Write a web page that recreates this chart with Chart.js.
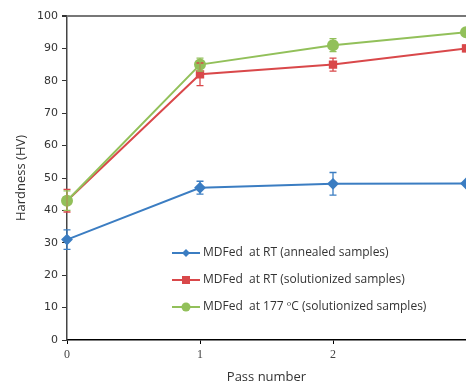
<!DOCTYPE html>
<html><head><meta charset="utf-8">
<script src="https://cdn.jsdelivr.net/npm/chart.js@4"></script>
<style>html,body{margin:0;padding:0;background:#fff;}#wrap{width:466px;height:385px;position:relative;}</style>
</head><body><div id="wrap"><canvas id="c" width="466" height="385"></canvas></div>
<script>
const passes = [0, 1, 2, 3];
const xTickLabels = ['0', '1', '2', ''];
const annealedRT = [31, 47, 48.2, 48.3];
const annealedRTErr = [3, 2, 3.5, 0];
const solutionizedRT = [43, 82, 85, 90];
const solutionizedRTErr = [3.5, 3.5, 2, 1];
const solutionized177 = [43, 85, 91, 95];
const solutionized177Err = [3, 2, 2, 1];
const seriesNames = ['MDFed  at RT (annealed samples)', 'MDFed  at RT (solutionized samples)', 'MDFed  at 177 ºC (solutionized samples)'];
const colors = ['#3b7dc2', '#d9484a', '#92c05a'];

function pts(arr){ return passes.map((p,i)=>({x:p,y:arr[i]})); }

const errorBars = {
  id:'errorBars',
  afterDatasetsDraw(chart){
    const ctx = chart.ctx, xs = chart.scales.x, ys = chart.scales.y;
    chart.data.datasets.forEach((ds)=>{
      ctx.save();
      ctx.strokeStyle = ds.borderColor; ctx.lineWidth = 1.3;
      ds.data.forEach((p,i)=>{
        const e = ds.err[i]; if(!e) return;
        const x = xs.getPixelForValue(p.x);
        const y1 = ys.getPixelForValue(p.y - e), y2 = ys.getPixelForValue(p.y + e);
        ctx.beginPath();
        ctx.moveTo(x,y1); ctx.lineTo(x,y2);
        ctx.moveTo(x-3.5,y1); ctx.lineTo(x+3.5,y1);
        ctx.moveTo(x-3.5,y2); ctx.lineTo(x+3.5,y2);
        ctx.stroke();
      });
      ctx.restore();
    });
  }
};

const legendBox = {
  id:'legendBox',
  afterDraw(chart){
    const ctx = chart.ctx;
    const rows = [253, 280, 307];
    chart.data.datasets.forEach((ds,i)=>{
      const y = rows[i];
      ctx.save();
      ctx.strokeStyle = ds.borderColor; ctx.lineWidth = 2;
      ctx.beginPath(); ctx.moveTo(172,y); ctx.lineTo(200,y); ctx.stroke();
      ctx.fillStyle = ds.borderColor;
      const cx = 186;
      if(ds.pointStyle==='rectRot'){
        ctx.beginPath(); ctx.moveTo(cx,y-4); ctx.lineTo(cx+4,y); ctx.lineTo(cx,y+4); ctx.lineTo(cx-4,y); ctx.closePath(); ctx.fill();
      } else if(ds.pointStyle==='rect'){
        ctx.fillRect(cx-4,y-4,8,8);
      } else {
        ctx.beginPath(); ctx.arc(cx,y,4.5,0,Math.PI*2); ctx.fill();
      }
      ctx.fillStyle = '#333'; ctx.font = '12px "Open Sans"'; ctx.textBaseline = 'middle';
      ctx.fillText(ds.label, 203, y);
      ctx.restore();
    });
  }
};

new Chart(document.getElementById('c'), {
  type:'line',
  data:{ datasets:[
    {label:seriesNames[0], data:pts(annealedRT), err:annealedRTErr, borderColor:colors[0], backgroundColor:colors[0], pointStyle:'rectRot', pointRadius:4.5, borderWidth:2, clip:false, order:2},
    {label:seriesNames[1], data:pts(solutionizedRT), err:solutionizedRTErr, borderColor:colors[1], backgroundColor:colors[1], pointStyle:'rect', pointRadius:4.5, borderWidth:2, clip:false, order:1},
    {label:seriesNames[2], data:pts(solutionized177), err:solutionized177Err, borderColor:colors[2], backgroundColor:colors[2], pointStyle:'circle', pointRadius:5, borderWidth:2, clip:false, order:0}
  ]},
  options:{
    responsive:false, animation:false,
    layout:{autoPadding:false, padding:{top:16,right:0,left:0,bottom:0}},
    plugins:{legend:{display:false}, tooltip:{enabled:false}},
    elements:{line:{tension:0}, point:{borderWidth:0}},
    scales:{
      x:{ type:'linear', min:0, max:3,
        border:{color:'#000', width:1.5},
        grid:{drawOnChartArea:false, color:'#000', tickLength:4},
        ticks:{stepSize:1, color:'#444', font:{family:'Liberation Serif', size:12}, padding:4,
          callback:(v)=> xTickLabels[passes.indexOf(v)] ?? ''},
        title:{display:true, text:'Pass number', color:'#333', font:{family:'Open Sans', size:13}, padding:{top:2,bottom:0}},
        afterFit(s){ s.height = 45; s.paddingRight = 0; s.paddingLeft = 0; }
      },
      y:{ min:0, max:100,
        border:{color:'#444', width:1.5},
        grid:{drawOnChartArea:true, color:(c)=> c.tick && c.tick.value===100 ? '#777' : 'rgba(0,0,0,0)', lineWidth:(c)=> c.tick && c.tick.value===100 ? 2 : 1, tickColor:'#333', tickLength:5},
        ticks:{stepSize:10, color:'#333', font:{family:'DejaVu Sans', size:11}, padding:4},
        title:{display:true, text:'Hardness (HV)', color:'#333', font:{family:'Open Sans', size:13}, padding:{top:13,bottom:4}},
        afterFit(s){ s.width = 67; }
      }
    }
  },
  plugins:[errorBars, legendBox]
});
</script></body></html>
